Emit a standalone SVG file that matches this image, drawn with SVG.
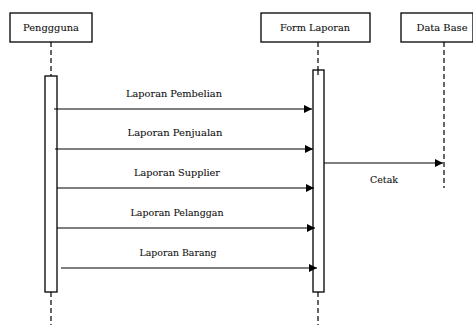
<svg xmlns="http://www.w3.org/2000/svg" width="473" height="325" viewBox="0 0 473 325">
  <style>
    .box { fill: #fff; stroke: #000; stroke-width: 1.3; }
    .life { stroke: #000; stroke-width: 1.2; stroke-dasharray: 5 3; fill: none; }
    .msg { stroke: #000; stroke-width: 1.2; fill: none; marker-end: url(#arrow); }
    .t { font-family: 'DejaVu Serif', 'Liberation Serif', serif; font-size: 9.5px; fill: #111; text-anchor: middle; stroke: #111; stroke-width: 0.1; }
  </style>
  <defs>
    <marker id="arrow" viewBox="0 0 10 10" refX="10" refY="5" markerWidth="10" markerHeight="8" markerUnits="userSpaceOnUse" orient="auto">
      <path d="M0,0 L10,5 L0,10 Z" fill="#000"/>
    </marker>
  </defs>
  <rect width="473" height="325" fill="#fff"/>

  <g id="lifelines">
    <line class="life" x1="51" y1="42" x2="51" y2="76"/>
    <line class="life" x1="51" y1="292" x2="51" y2="325"/>
    <line class="life" x1="318" y1="42" x2="318" y2="70"/>
    <line class="life" x1="318" y1="292" x2="318" y2="325"/>
    <line class="life" x1="444" y1="42" x2="444" y2="188"/>
  </g>

  <g id="pengguna">
    <rect class="box" x="10" y="13" width="82" height="29"/>
    <text class="t" x="51" y="31" textLength="56" lengthAdjust="spacingAndGlyphs">Penggguna</text>
    <rect class="box" x="45" y="76" width="12" height="216"/>
  </g>

  <g id="form-laporan">
    <rect class="box" x="261" y="13" width="109" height="29"/>
    <text class="t" x="315" y="31" textLength="70" lengthAdjust="spacingAndGlyphs">Form Laporan</text>
    <rect class="box" x="313" y="70" width="11" height="222"/>
    <line class="life" x1="318" y1="70" x2="318" y2="76"/>
  </g>

  <g id="data-base">
    <rect class="box" x="401" y="13" width="72" height="29"/>
    <text class="t" x="442" y="31" textLength="51" lengthAdjust="spacingAndGlyphs">Data Base</text>
  </g>

  <g id="connectors">
    <line class="msg" x1="54" y1="109" x2="312" y2="109"/>
    <text class="t" x="174" y="97" textLength="96" lengthAdjust="spacingAndGlyphs">Laporan  Pembelian</text>
    <line class="msg" x1="55" y1="149" x2="313" y2="149"/>
    <text class="t" x="175" y="136" textLength="95" lengthAdjust="spacingAndGlyphs">Laporan  Penjualan</text>
    <line class="msg" x1="57" y1="188" x2="314" y2="188"/>
    <text class="t" x="177" y="176" textLength="86" lengthAdjust="spacingAndGlyphs">Laporan Supplier</text>
    <line class="msg" x1="57" y1="228" x2="315" y2="228"/>
    <text class="t" x="177" y="216" textLength="93" lengthAdjust="spacingAndGlyphs">Laporan Pelanggan</text>
    <line class="msg" x1="61" y1="268" x2="317" y2="268"/>
    <text class="t" x="178" y="256" textLength="77" lengthAdjust="spacingAndGlyphs">Laporan Barang</text>
    <line class="msg" x1="324" y1="163" x2="443" y2="163"/>
    <text class="t" x="384" y="183" textLength="28" lengthAdjust="spacingAndGlyphs">Cetak</text>
  </g>
</svg>
